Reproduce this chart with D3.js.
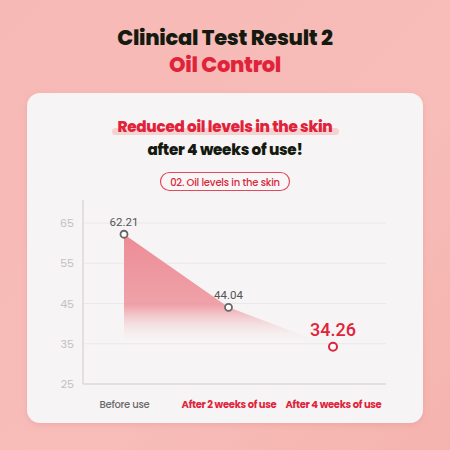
<!DOCTYPE html>
<html><head><meta charset="utf-8">
<script src="https://cdn.jsdelivr.net/npm/d3@7"></script>
<style>html,body{margin:0;padding:0;background:#f6bdb9;}svg{display:block;}</style>
</head><body>
<script>
const categories = ["Before use", "After 2 weeks of use", "After 4 weeks of use"];
const values = [62.21, 44.04, 34.26];
const valueLabels = ["62.21", "44.04", "34.26"];
const yTicks = [25, 35, 45, 55, 65];

const W = 450, H = 450;
const svg = d3.select("body").append("svg").attr("width", W).attr("height", H);
const defs = svg.append("defs");

const bg = defs.append("linearGradient").attr("id","bg").attr("x1","0").attr("y1","0").attr("x2","1").attr("y2","1");
bg.append("stop").attr("offset","0").attr("stop-color","#f7b9b5");
bg.append("stop").attr("offset","0.6").attr("stop-color","#f8bdb9");
bg.append("stop").attr("offset","1").attr("stop-color","#f5b3ae");
svg.append("rect").attr("width",W).attr("height",H).attr("fill","url(#bg)");

const sh = defs.append("filter").attr("id","sh").attr("x","-10%").attr("y","-10%").attr("width","120%").attr("height","130%");
sh.append("feDropShadow").attr("dx",0).attr("dy",2).attr("stdDeviation",3).attr("flood-color","#c77").attr("flood-opacity",0.25);
svg.append("rect").attr("x",27).attr("y",93).attr("width",396).attr("height",330).attr("rx",13)
  .attr("fill","#f6f4f4").attr("filter","url(#sh)");

const font = "Poppins, Inter, 'Open Sans', sans-serif";
svg.append("text").attr("x",225).attr("y",45).attr("text-anchor","middle")
  .attr("font-family",font).attr("font-weight",800).attr("font-size",21).attr("fill","#141a10")
  .attr("letter-spacing","-0.3").text("Clinical Test Result 2");
svg.append("text").attr("x",225).attr("y",72).attr("text-anchor","middle")
  .attr("font-family",font).attr("font-weight",800).attr("font-size",21).attr("fill","#e0233a")
  .attr("letter-spacing","-0.3").text("Oil Control");

svg.append("rect").attr("x",112).attr("y",128).attr("width",227).attr("height",7).attr("rx",3.5).attr("fill","#f6d3d3");
svg.append("text").attr("x",225).attr("y",132).attr("text-anchor","middle")
  .attr("font-family",font).attr("font-weight",800).attr("font-size",15.2).attr("fill","#e0233a")
  .attr("letter-spacing","-0.3").text("Reduced oil levels in the skin");
svg.append("text").attr("x",225).attr("y",155).attr("text-anchor","middle")
  .attr("font-family",font).attr("font-weight",800).attr("font-size",15.2).attr("fill","#141a10")
  .attr("letter-spacing","-0.3").text("after 4 weeks of use!");

svg.append("rect").attr("x",160.5).attr("y",172.5).attr("width",129).attr("height",18).attr("rx",9)
  .attr("fill","#f8f6f6").attr("stroke","#e04a5a").attr("stroke-width",1.2);
svg.append("text").attr("x",225).attr("y",185.5).attr("text-anchor","middle")
  .attr("font-family",font).attr("font-weight",500).attr("font-size",10).attr("fill","#d8283d")
  .attr("letter-spacing","-0.2").text("02. Oil levels in the skin");

const y = d3.scaleLinear().domain([25,65]).range([384,223]);
const x = d3.scalePoint().domain(categories).range([124,333]);
const xL = 83, xR = 386;

// grid
svg.append("g").selectAll("line").data(yTicks.slice(1)).join("line")
  .attr("x1",xL).attr("x2",xR).attr("y1",d=>y(d)).attr("y2",d=>y(d))
  .attr("stroke","#ebe8e8").attr("stroke-width",1);

// y axis
const yAxis = svg.append("g").attr("transform",`translate(${xL},0)`)
  .call(d3.axisLeft(y).tickValues(yTicks).tickSize(0).tickPadding(9));
yAxis.select(".domain").remove();
yAxis.selectAll("text").attr("font-family",font).attr("font-size",11).attr("fill","#c4c0c0");
svg.append("line").attr("x1",xL).attr("x2",xL).attr("y1",200).attr("y2",384).attr("stroke","#dcd9d9").attr("stroke-width",1.5);

// x axis
const xAxis = svg.append("g").attr("transform",`translate(0,384)`)
  .call(d3.axisBottom(x).tickSize(0).tickPadding(17));
xAxis.select(".domain").remove();
xAxis.selectAll("text").attr("font-family",font).attr("font-weight",(d,i)=>i===0?500:700).attr("font-size",10)
  .attr("letter-spacing","-0.3").attr("fill",(d,i)=>i===0?"#6a6a6a":"#e0233a");
svg.append("line").attr("x1",xL).attr("x2",xR).attr("y1",384).attr("y2",384).attr("stroke","#dcd9d9").attr("stroke-width",1.5);

// area
const ag = defs.append("linearGradient").attr("id","ag")
  .attr("gradientUnits","userSpaceOnUse").attr("x1",0).attr("y1",y(62.21)).attr("x2",0).attr("y2",y(35));
ag.append("stop").attr("offset","0").attr("stop-color","#ec8690").attr("stop-opacity",0.95);
ag.append("stop").attr("offset","0.65").attr("stop-color","#ee939c").attr("stop-opacity",0.85);
ag.append("stop").attr("offset","1").attr("stop-color","#f6f4f4").attr("stop-opacity",0);
const data = categories.map((c,i)=>({c, v:values[i], l:valueLabels[i]}));
const area = d3.area().x(d=>x(d.c)).y0(y(35)).y1(d=>y(d.v));
svg.append("path").datum(data).attr("d",area).attr("fill","url(#ag)");

// points
svg.append("g").selectAll("circle").data(data).join("circle")
  .attr("cx",d=>x(d.c)).attr("cy",d=>y(d.v)).attr("r",(d,i)=>i===2?4:3.5)
  .attr("fill","#fff").attr("stroke",(d,i)=>i===2?"#e0233a":"#666").attr("stroke-width",(d,i)=>i===2?2:1.8);

// value labels
svg.append("g").selectAll("text").data(data).join("text")
  .attr("x",d=>x(d.c)).attr("y",(d,i)=>y(d.v)-(i===2?11:8)).attr("text-anchor","middle")
  .attr("font-family","Roboto, 'Open Sans', sans-serif")
  .attr("font-size",(d,i)=>i===2?18:11.5).attr("font-weight",(d,i)=>i===2?500:400)
  .attr("fill",(d,i)=>i===2?"#e0233a":"#555")
  .text(d=>d.l);
</script>
</body></html>
